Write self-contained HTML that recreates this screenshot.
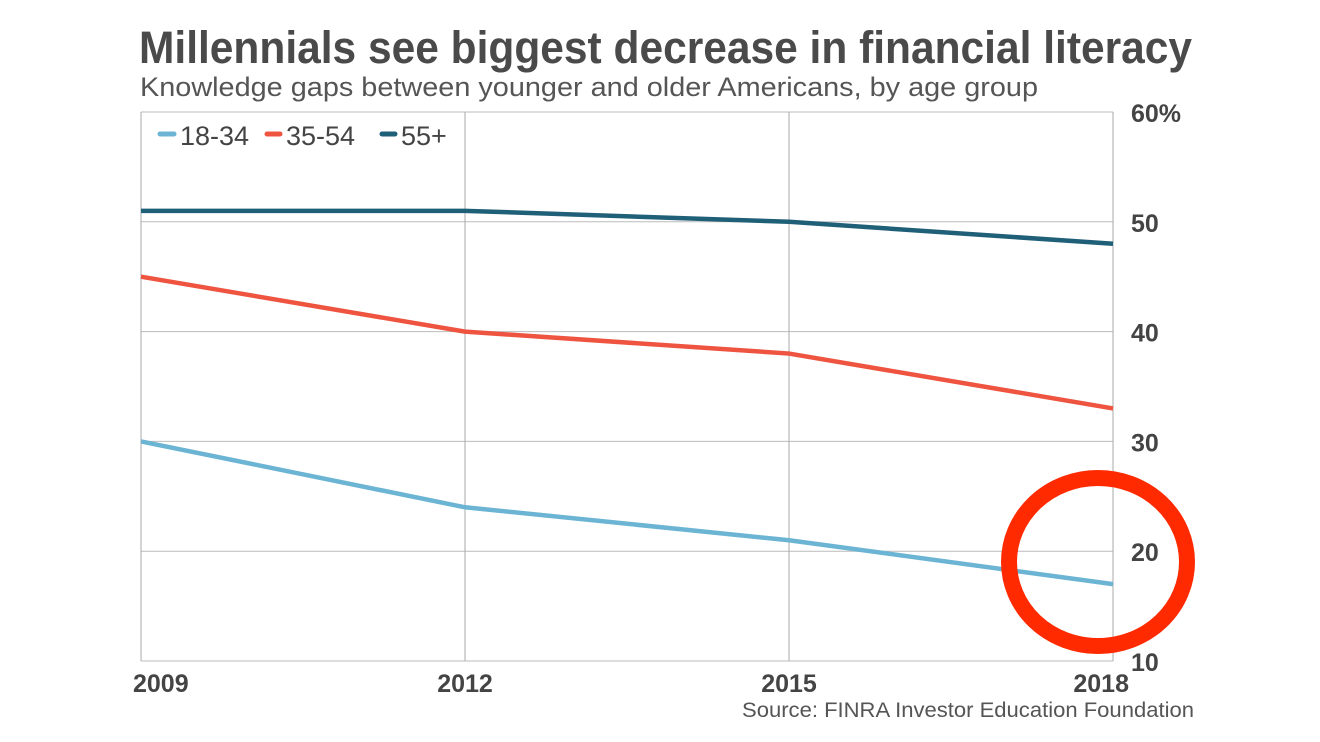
<!DOCTYPE html>
<html><head><meta charset="utf-8"><style>
body{margin:0;background:#fff;}
svg{display:block;font-family:"Liberation Sans",sans-serif;}
</style></head><body>
<svg id="chart" width="1320" height="742" viewBox="0 0 1320 742">
<text x="139" y="63" font-size="45" font-weight="bold" fill="#4a4a4a" textLength="1053" lengthAdjust="spacingAndGlyphs">Millennials see biggest decrease in financial literacy</text>
<text x="140" y="96" font-size="27" fill="#555" textLength="898" lengthAdjust="spacingAndGlyphs">Knowledge gaps between younger and older Americans, by age group</text>
<g id="grid"></g>
<g id="lines"></g>
<g id="legend">
<line x1="160" y1="134" x2="174" y2="134" stroke="#6cb4d4" stroke-width="5" stroke-linecap="round"/>
<text x="180" y="145" font-size="27" fill="#444">18-34</text>
<line x1="267" y1="134" x2="280" y2="134" stroke="#ee5440" stroke-width="5" stroke-linecap="round"/>
<text x="286" y="145" font-size="27" fill="#444">35-54</text>
<line x1="382" y1="134" x2="395" y2="134" stroke="#1f5f78" stroke-width="5" stroke-linecap="round"/>
<text x="401" y="145" font-size="27" fill="#444">55+</text>
</g>
<text x="742" y="717" font-size="21" fill="#555" textLength="452" lengthAdjust="spacingAndGlyphs">Source: FINRA Investor Education Foundation</text>
<ellipse cx="1098" cy="562" rx="89" ry="84" fill="none" stroke="#ff2a00" stroke-width="16"/>
</svg>
<script>
const years = ["2009","2012","2015","2018"];
const s1834 = [30,24,21,17];
const s3554 = [45,40,38,33];
const s55 = [51,51,50,48];
const yTicks = [10,20,30,40,50,60];
const yTickLabels = ["10","20","30","40","50","60%"];
const NS="http://www.w3.org/2000/svg";
const L=141,R=1113,T=112,B=661;
const x=i=>L+(R-L)*i/(years.length-1);
const y=v=>B-(v-10)/50*(B-T);
const grid=document.getElementById('grid'),lines=document.getElementById('lines');
function mk(tag,attrs,parent){const e=document.createElementNS(NS,tag);for(const k in attrs)e.setAttribute(k,attrs[k]);parent.appendChild(e);return e;}
yTicks.forEach((v,i)=>{
  const g=mk('line',{x1:L,x2:R,y1:y(v),y2:y(v),stroke:'#bbb','stroke-width':1},grid);
  
  
  const t=mk('text',{x:1131,y:y(v)+10,'font-size':25,'font-weight':'bold',fill:'#444'},grid);
  t.textContent=yTickLabels[i];
  
  
});
years.forEach((yr,i)=>{
  const g=mk('line',{x1:x(i),x2:x(i),y1:T,y2:B,stroke:'#aaa','stroke-width':1},grid);
  
  
  const anchor=i===0?'start':(i===years.length-1?'end':'middle');
  const t=mk('text',{x:i===0?x(i)-8:(i===years.length-1?x(i)+16:x(i)),y:692,'font-size':25,'font-weight':'bold',fill:'#444','text-anchor':anchor},grid);
  t.textContent=yr;
  
  
});
[[s55,'#1f5f78','line-55-plus'],[s3554,'#ee5440','line-35-54'],[s1834,'#6cb4d4','line-18-34']].forEach(([d,c,n])=>{
  const p=mk('polyline',{points:d.map((v,i)=>x(i)+','+y(v)).join(' '),fill:'none',stroke:c,'stroke-width':4.5,'stroke-linejoin':'round'},lines);
  
  
});
</script>
</body></html>
